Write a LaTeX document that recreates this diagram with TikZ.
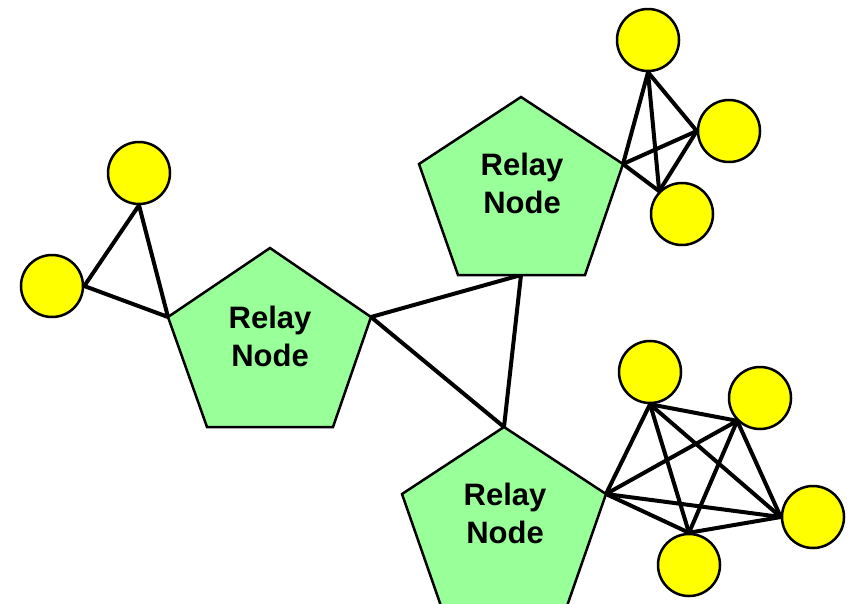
\documentclass[tikz,border=0pt]{standalone}
\usepackage{fontspec}
\setmainfont{Liberation Sans}
\usetikzlibrary{backgrounds}
\definecolor{relaygreen}{HTML}{99FF99}
\definecolor{sensoryellow}{HTML}{FFFF00}
\begin{document}
\begin{tikzpicture}[x=1pt,y=-1pt,
  sensor/.style={circle, draw=black, line width=2.5pt, fill=sensoryellow,
    minimum size=62pt, inner sep=0pt},
  relay/.style={draw=black, line width=2.5pt, fill=relaygreen, line join=miter},
  relaytext/.style={font=\bfseries\fontsize{31}{38}\selectfont, align=center, inner sep=0pt},
  link/.style={line width=4pt, line cap=round}]
\clip (0,0) rectangle (850,603);
\useasboundingbox (0,0) rectangle (850,603);

% relay node corners (top, right, bottom right, bottom left, left)
\coordinate (p1t) at (270,248);
\coordinate (p1r) at (371,317);
\coordinate (p1br) at (333,427);
\coordinate (p1bl) at (207,427);
\coordinate (p1l) at (168,317);

\coordinate (p2t) at (521,97);
\coordinate (p2r) at (623,164);
\coordinate (p2br) at (585,275);
\coordinate (p2bl) at (458,275);
\coordinate (p2l) at (419,164);
\coordinate (p2b) at (521,275);

\coordinate (p3t) at (504,427);
\coordinate (p3r) at (606,494);
\coordinate (p3br) at (567,606);
\coordinate (p3bl) at (441,606);
\coordinate (p3l) at (402,494);

% relay pentagons
\filldraw[relay] (p1t) -- (p1r) -- (p1br) -- (p1bl) -- (p1l) -- cycle;
\filldraw[relay] (p2t) -- (p2r) -- (p2br) -- (p2bl) -- (p2l) -- cycle;
\filldraw[relay] (p3t) -- (p3r) -- (p3br) -- (p3bl) -- (p3l) -- cycle;

\node[relaytext] (t1) at (270,336) {Relay\\Node};
\node[relaytext] (t2) at (522,183) {Relay\\Node};
\node[relaytext] (t3) at (505,513) {Relay\\Node};

% sensor nodes
\node[sensor] (a) at (139,173) {};
\node[sensor] (b) at (52,286) {};
\node[sensor] (c) at (648,40) {};
\node[sensor] (d) at (729,131) {};
\node[sensor] (e) at (682,214) {};
\node[sensor] (f) at (650,372) {};
\node[sensor] (g) at (760,398) {};
\node[sensor] (h) at (813,517) {};
\node[sensor] (i) at (689,565) {};

\begin{scope}[on background layer]
% links between relays
\draw[link] (p1r) -- (p2b) -- (p3t) -- cycle;

% left cluster
\draw[link] (b.east) -- (a.south) -- (p1l) -- (b.east);

% upper right cluster
\draw[link] (p2r) -- (c.south);
\draw[link] (p2r) -- (d.west);
\draw[link] (p2r) -- (e.135);
\draw[link] (c.south) -- (d.west);
\draw[link] (c.south) -- (e.135);
\draw[link] (d.west) -- (e.135);

% lower right cluster
\draw[link] (p3r) -- (f.south);
\draw[link] (p3r) -- (g.225);
\draw[link] (p3r) -- (h.west);
\draw[link] (p3r) -- (i.north);
\draw[link] (f.south) -- (g.225);
\draw[link] (f.south) -- (h.west);
\draw[link] (f.south) -- (i.north);
\draw[link] (g.225) -- (h.west);
\draw[link] (g.225) -- (i.north);
\draw[link] (h.west) -- (i.north);
\end{scope}
\end{tikzpicture}
\end{document}
